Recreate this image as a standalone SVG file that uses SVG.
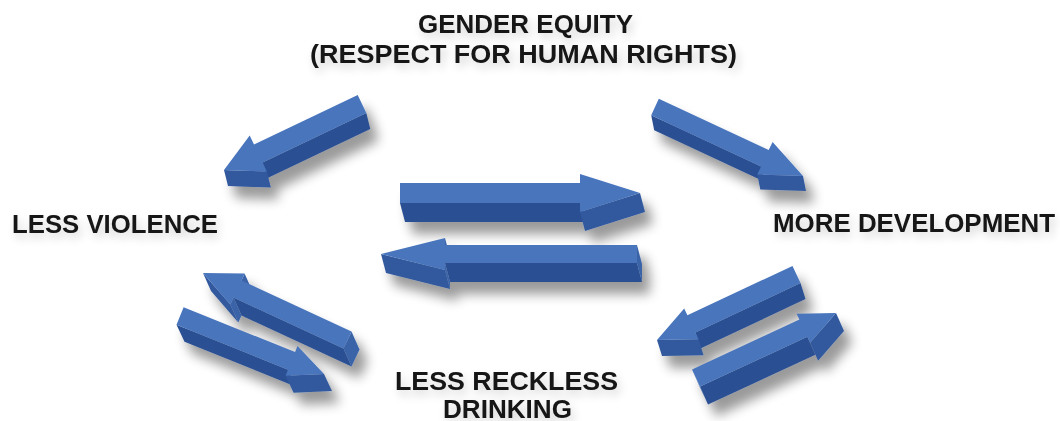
<svg xmlns="http://www.w3.org/2000/svg" width="1060" height="421" viewBox="0 0 1060 421">
<defs>
<filter id="ashadow" x="-20%" y="-30%" width="150%" height="190%">
<feGaussianBlur in="SourceAlpha" stdDeviation="6"/>
<feOffset dx="8" dy="12" result="b"/>
<feComponentTransfer in="b" result="s"><feFuncA type="linear" slope="0.4"/></feComponentTransfer>
<feMerge><feMergeNode in="s"/><feMergeNode in="SourceGraphic"/></feMerge>
</filter>
<filter id="tshadow" x="-10%" y="-40%" width="120%" height="200%">
<feGaussianBlur in="SourceAlpha" stdDeviation="5"/>
<feOffset dx="3" dy="5" result="b"/>
<feComponentTransfer in="b" result="s"><feFuncA type="linear" slope="0.18"/></feComponentTransfer>
<feMerge><feMergeNode in="s"/><feMergeNode in="SourceGraphic"/></feMerge>
</filter>
</defs>
<style>
.top{fill:#4875bd}
.side{fill:#2c5092}
.head{fill:#32599d}
.end{fill:#3a63a8}
.lbl{font-family:"Liberation Sans",Arial,sans-serif;font-weight:bold;font-size:25px;fill:#141414}
</style>
<rect width="1060" height="421" fill="#ffffff"/>
<g id="connectors">
<g id="arrow-center-right" filter="url(#ashadow)">
<polygon class="side" points="580,203 400,203 405,222 585,222"/>
<polygon class="head" points="640,193 580,212 585,231 645,212"/>
<polygon class="top" points="400,183 580,183 580,174 640,193 580,212 580,203 400,203"/>
</g>
<g id="arrow-center-left" filter="url(#ashadow)">
<polygon class="side" points="637,263 445,263 450,282 642,282"/>
<polygon class="end" points="637,245 637,263 642,282 642,264"/>
<polygon class="end" points="445,263 445,270 450,289 450,282"/>
<polygon class="end" points="445,238 445,245 450,264 450,257"/>
<polygon class="head" points="445,270 381,254 386,273 450,289"/>
<polygon class="top" points="637,263 445,263 445,270 381,254 445,238 445,245 637,245"/>
</g>
<g id="arrow-top-right" filter="url(#ashadow)">
<polygon class="side" points="761.1,166.4 651.2,115.2 654.2,130.2 764.1,181.4"/>
<polygon class="head" points="803,176 757.3,174.6 760.3,189.6 806,191"/>
<polygon class="top" points="658.8,98.8 768.7,150.1 772.6,141.9 803,176 757.3,174.6 761.1,166.4 651.2,115.2"/>
</g>
<g id="arrow-top-left" filter="url(#ashadow)">
<polygon class="side" points="366.3,113 262.6,162.6 266.6,178.6 370.3,129"/>
<polygon class="head" points="266.9,171.6 224,170 228,186 270.9,187.6"/>
<polygon class="top" points="366.3,113 262.6,162.6 266.9,171.6 224,170 249.7,135.6 254,144.6 357.7,95"/>
</g>
<g id="arrow-bottom-left-up" filter="url(#ashadow)">
<polygon class="side" points="343.5,348.6 233.5,297.6 241.5,315.6 351.5,366.6"/>
<polygon class="end" points="351.5,331.4 343.5,348.6 351.5,366.6 359.5,349.4"/>
<polygon class="end" points="233.5,297.6 230.3,304.4 238.3,322.4 241.5,315.6"/>
<polygon class="end" points="244.6,273.6 241.5,280.4 249.5,298.4 252.6,291.6"/>
<polygon class="head" points="230.3,304.4 203,273 211,291 238.3,322.4"/>
<polygon class="top" points="343.5,348.6 233.5,297.6 230.3,304.4 203,273 244.6,273.6 241.5,280.4 351.5,331.4"/>
</g>
<g id="arrow-bottom-left-down" filter="url(#ashadow)">
<polygon class="side" points="288,369.7 176.5,324.8 184.5,341.8 296,386.7"/>
<polygon class="head" points="324,374 285.6,375.8 293.6,392.8 332,391"/>
<polygon class="top" points="183.6,307.2 295.1,352.1 297.5,346.1 324,374 285.6,375.8 288,369.7 176.5,324.8"/>
</g>
<g id="arrow-bottom-right-down" filter="url(#ashadow)">
<polygon class="side" points="800.5,283.1 695.4,332.5 700.4,348.5 805.5,299.1"/>
<polygon class="head" points="698.6,339.2 657,340 662,356 703.6,355.2"/>
<polygon class="top" points="800.5,283.1 695.4,332.5 698.6,339.2 657,340 684.2,308.5 687.4,315.3 792.5,265.9"/>
</g>
<g id="arrow-bottom-right-up" filter="url(#ashadow)">
<polygon class="side" points="807.4,336.8 700,386.6 708,404.6 815.4,354.8"/>
<polygon class="end" points="700,386.6 692,369.4 700,387.4 708,404.6"/>
<polygon class="end" points="810.1,342.7 807.4,336.8 815.4,354.8 818.1,360.7"/>
<polygon class="head" points="836,313 810.1,342.7 818.1,360.7 844,331"/>
<polygon class="top" points="692,369.4 799.4,319.5 796.6,313.7 836,313 810.1,342.7 807.4,336.8 700,386.6"/>
</g>
</g>
<g id="node-gender-equity" filter="url(#tshadow)">
<text class="lbl" x="418" y="33" textLength="215" lengthAdjust="spacingAndGlyphs">GENDER EQUITY</text>
<text class="lbl" x="310" y="63" textLength="427" lengthAdjust="spacingAndGlyphs">(RESPECT FOR HUMAN RIGHTS)</text>
</g>
<g id="node-less-violence" filter="url(#tshadow)">
<text class="lbl" x="12" y="233" textLength="206" lengthAdjust="spacingAndGlyphs">LESS VIOLENCE</text>
</g>
<g id="node-more-development" filter="url(#tshadow)">
<text class="lbl" x="773" y="232" textLength="282" lengthAdjust="spacingAndGlyphs">MORE DEVELOPMENT</text>
</g>
<g id="node-less-reckless-drinking" filter="url(#tshadow)">
<text class="lbl" x="395" y="390" textLength="223" lengthAdjust="spacingAndGlyphs">LESS RECKLESS</text>
<text class="lbl" x="443" y="418" textLength="129" lengthAdjust="spacingAndGlyphs">DRINKING</text>
</g>
</svg>
